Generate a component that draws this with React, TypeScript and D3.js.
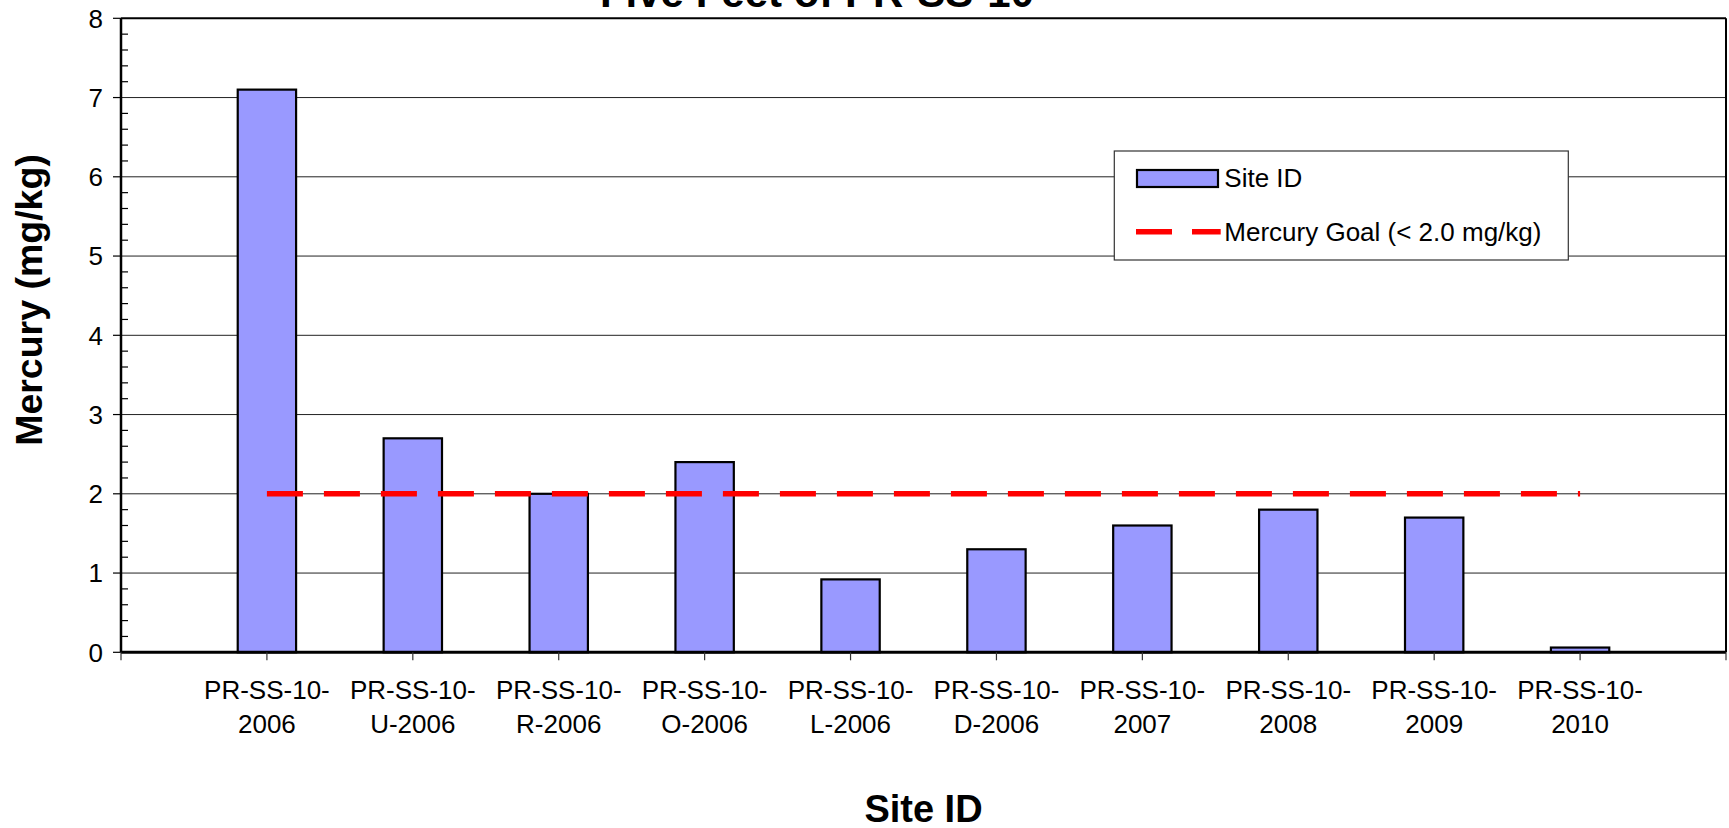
import React from "react";
import * as d3 from "d3";

const categories = [
  "PR-SS-10-2006",
  "PR-SS-10-U-2006",
  "PR-SS-10-R-2006",
  "PR-SS-10-O-2006",
  "PR-SS-10-L-2006",
  "PR-SS-10-D-2006",
  "PR-SS-10-2007",
  "PR-SS-10-2008",
  "PR-SS-10-2009",
  "PR-SS-10-2010",
];
const mercuryValues = [7.1, 2.7, 2.0, 2.4, 0.92, 1.3, 1.6, 1.8, 1.7, 0.06];
const goalValues = [2, 2, 2, 2, 2, 2, 2, 2, 2, 2];
const yTicks = [0, 1, 2, 3, 4, 5, 6, 7, 8];
const titleText = "Five Feet of PR-SS-10";
const yTitle = "Mercury (mg/kg)";
const xTitle = "Site ID";
const legendBar = "Site ID";
const legendLine = "Mercury Goal (< 2.0 mg/kg)";

const W = 1729;
const H = 828;
const FONT = "'Liberation Sans', Arial, sans-serif";

export default function App() {
  const left = 121;
  const right = 1726;
  const top = 18.3;
  const bottom = 652.3;

  const x = d3.scalePoint<string>().domain(categories).range([left, right]).padding(1);
  const y = d3.scaleLinear().domain([0, 8]).range([bottom, top]);
  const step = x.step();
  const barW = step * 0.4;

  const minorTicks = d3.range(0, 8.0001, 0.2).filter((v) => Math.abs(v - Math.round(v)) > 1e-6);

  const goalLine = d3
    .line<number>()
    .x((_, i) => x(categories[i]) as number)
    .y((d) => y(d));

  const xTickPositions = [left, ...categories.map((c) => x(c) as number), right];

  return (
    <svg
      width={W}
      height={H}
      style={{ position: "fixed", left: 0, top: 0, display: "block", background: "#fff" }}
      fontFamily={FONT}
    >
      <rect x={0} y={0} width={W} height={H} fill="#fff" />
      {/* title (partially clipped) */}
      <text x={817} y={7} textAnchor="middle" fontSize={42} fontWeight="bold" fill="#000">
        {titleText}
      </text>

      {/* gridlines */}
      {yTicks
        .filter((t) => t > 0 && t < 8)
        .map((t) => (
          <line key={"g" + t} x1={left} x2={right} y1={y(t)} y2={y(t)} stroke="#222" strokeWidth={1} />
        ))}

      {/* bars */}
      {mercuryValues.map((v, i) => (
        <rect
          key={"b" + i}
          x={(x(categories[i]) as number) - barW / 2}
          y={y(v)}
          width={barW}
          height={bottom - y(v)}
          fill="#9999FF"
          stroke="#000"
          strokeWidth={2.2}
        />
      ))}

      {/* goal line */}
      <path d={goalLine(goalValues) || ""} fill="none" stroke="#FF0000" strokeWidth={5.5} strokeDasharray="36 21" />

      {/* plot border */}
      <line x1={left} x2={right} y1={top} y2={top} stroke="#000" strokeWidth={2} />
      <line x1={right} x2={right} y1={top} y2={bottom} stroke="#000" strokeWidth={2} />
      <line x1={left} x2={left} y1={top} y2={bottom} stroke="#000" strokeWidth={2.5} />
      <line x1={left} x2={right} y1={bottom} y2={bottom} stroke="#000" strokeWidth={3} />

      {/* y ticks */}
      {yTicks.map((t) => (
        <g key={"yt" + t}>
          <line x1={left - 8} x2={left} y1={y(t)} y2={y(t)} stroke="#000" strokeWidth={1.2} />
          <text x={103} y={y(t)} dy="0.36em" textAnchor="end" fontSize={26} fill="#000">
            {t}
          </text>
        </g>
      ))}
      {minorTicks.map((t, i) => (
        <line key={"mt" + i} x1={left} x2={left + 7} y1={y(t)} y2={y(t)} stroke="#000" strokeWidth={1.2} />
      ))}

      {/* x ticks */}
      {xTickPositions.map((px, i) => (
        <line key={"xt" + i} x1={px} x2={px} y1={bottom} y2={bottom + 8} stroke="#333" strokeWidth={1.2} />
      ))}
      {categories.map((c) => (
        <text key={"xl" + c} x={x(c) as number} textAnchor="middle" fontSize={26} fill="#000">
          <tspan x={x(c) as number} y={699.3}>
            {c.slice(0, 9)}
          </tspan>
          <tspan x={x(c) as number} y={732.7}>
            {c.slice(9)}
          </tspan>
        </text>
      ))}

      {/* axis titles */}
      <text x={(left + right) / 2} y={821.7} textAnchor="middle" fontSize={38} fontWeight="bold" fill="#000">
        {xTitle}
      </text>
      <text
        transform={`translate(41.7,300) rotate(-90)`}
        textAnchor="middle"
        fontSize={37.5}
        fontWeight="bold"
        fill="#000"
      >
        {yTitle}
      </text>

      {/* legend */}
      <rect x={1114.3} y={151} width={454} height={109} fill="#fff" stroke="#333" strokeWidth={1.2} />
      <rect x={1137} y={170} width={81} height={17} fill="#9999FF" stroke="#000" strokeWidth={2.2} />
      <text x={1224.3} y={187.3} fontSize={26} fill="#000">
        {legendBar}
      </text>
      <line x1={1136} x2={1220.7} y1={231.7} y2={231.7} stroke="#FF0000" strokeWidth={5.5} strokeDasharray="36 20" />
      <text x={1224.3} y={241} fontSize={26} fill="#000">
        {legendLine}
      </text>
    </svg>
  );
}
